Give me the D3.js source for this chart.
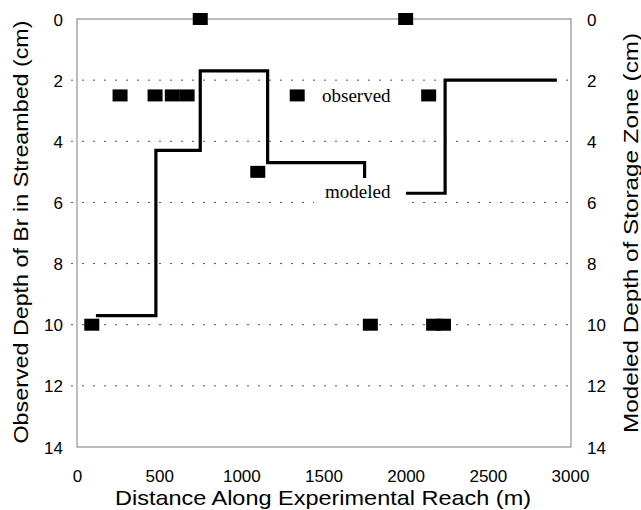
<!DOCTYPE html>
<html>
<head>
<meta charset="utf-8">
<script src="https://cdn.jsdelivr.net/npm/d3@7"></script>
<style>
  html, body { margin: 0; padding: 0; background: #fff; }
  svg { display: block; }
  .tick text { font-family: "Liberation Sans", Arial, Helvetica, sans-serif; font-size: 17px; fill: #000; }
  .title { font-family: "Liberation Sans", Arial, Helvetica, sans-serif; font-size: 21px; fill: #000; }
  .note { font-family: "Liberation Serif", "Times New Roman", serif; font-size: 19px; fill: #000; }
</style>
</head>
<body>
<script>
// Observed bromide depth in the streambed (distance m, depth cm)
const obsDistance = [750, 2000, 262, 475, 580, 670, 1340, 2140, 1100, 90, 1785, 2170, 2230];
const obsDepth    = [0,   0,    2.5, 2.5, 2.5, 2.5, 2.5,  2.5,  5,    10, 10,   10,   10];

// Modeled storage-zone depth: reach breakpoints (m) and depth on each reach (cm)
const modelEdges = [115, 480, 750, 1160, 1750, 2240, 2920];
const modelDepth = [9.7, 4.3, 1.7, 4.7,  5.7,  2.0];

// Axis ticks
const xTicks = [0, 500, 1000, 1500, 2000, 2500, 3000];
const yTicks = [0, 2, 4, 6, 8, 10, 12, 14];

const W = 641, H = 510;
const svg = d3.select("body").append("svg").attr("width", W).attr("height", H);

const x = d3.scaleLinear().domain([0, 3000]).range([77, 570]);
const y = d3.scaleLinear().domain([0, 14]).range([19, 447]);
const yRight = d3.scaleLinear().domain([0, 14]).range([19, 447]);

// dotted horizontal grid
svg.append("g").selectAll("line")
  .data(yTicks.filter(d => d > 0 && d < 14))
  .join("line")
  .attr("x1", 71).attr("x2", 568)
  .attr("y1", d => y(d)).attr("y2", d => y(d))
  .attr("stroke", "#555").attr("stroke-width", 1)
  .attr("stroke-dasharray", "2,9");

// plot frame
svg.append("rect")
  .attr("x", x(0)).attr("y", y(0))
  .attr("width", x(3000) - x(0) + 1).attr("height", y(14) - y(0))
  .attr("fill", "none").attr("stroke", "#7a7a7a").attr("stroke-width", 1);

// modeled step line
const stepPts = [];
modelDepth.forEach((d, i) => {
  stepPts.push([modelEdges[i], d]);
  stepPts.push([modelEdges[i + 1], d]);
});
const line = d3.line().x(d => x(d[0])).y(d => y(d[1]));
svg.append("path")
  .attr("d", line(stepPts))
  .attr("fill", "none").attr("stroke", "#000")
  .attr("stroke-width", 3.2).attr("stroke-linejoin", "miter");

// observed points
svg.append("g").selectAll("rect")
  .data(obsDistance.map((d, i) => [d, obsDepth[i]]))
  .join("rect")
  .attr("x", d => x(d[0]) - 7.5).attr("y", d => y(d[1]) - 6)
  .attr("width", 15).attr("height", 12)
  .attr("fill", "#000");

// in-plot labels
svg.append("rect")
  .attr("x", 314).attr("y", 178).attr("width", 92).attr("height", 28)
  .attr("fill", "#fff");
svg.append("text").attr("class", "note")
  .attr("x", 325).attr("y", 198).text("modeled");
svg.append("text").attr("class", "note")
  .attr("x", 322).attr("y", 102).text("observed");

// axes
const gl = svg.append("g").attr("transform", `translate(${x(0)},0)`)
  .call(d3.axisLeft(y).tickValues(yTicks).tickSize(0).tickPadding(14));
gl.select(".domain").remove();
gl.selectAll("text").attr("dy", "0.36em");

const gr = svg.append("g").attr("transform", `translate(${x(3000) + 1},0)`)
  .call(d3.axisRight(yRight).tickValues(yTicks).tickSize(0).tickPadding(16));
gr.select(".domain").remove();
gr.selectAll("text").attr("dy", "0.36em");

const gb = svg.append("g").attr("transform", `translate(0,${y(14)})`)
  .call(d3.axisBottom(x).tickValues(xTicks).tickFormat(d3.format("d")).tickSize(0).tickPadding(0));
gb.select(".domain").remove();
gb.selectAll("text").attr("y", 35).attr("dy", 0);

// axis titles
svg.append("text").attr("class", "title")
  .attr("text-anchor", "middle")
  .attr("x", 323).attr("y", 505)
  .attr("textLength", 416).attr("lengthAdjust", "spacingAndGlyphs")
  .text("Distance Along Experimental Reach (m)");

svg.append("text").attr("class", "title")
  .attr("text-anchor", "middle")
  .attr("transform", "translate(28,232) rotate(-90)")
  .attr("textLength", 423).attr("lengthAdjust", "spacingAndGlyphs")
  .text("Observed Depth of Br in Streambed (cm)");

svg.append("text").attr("class", "title")
  .attr("text-anchor", "middle")
  .attr("transform", "translate(638,233) rotate(-90)")
  .attr("textLength", 400).attr("lengthAdjust", "spacingAndGlyphs")
  .text("Modeled Depth of Storage Zone  (cm)");
</script>
</body>
</html>
